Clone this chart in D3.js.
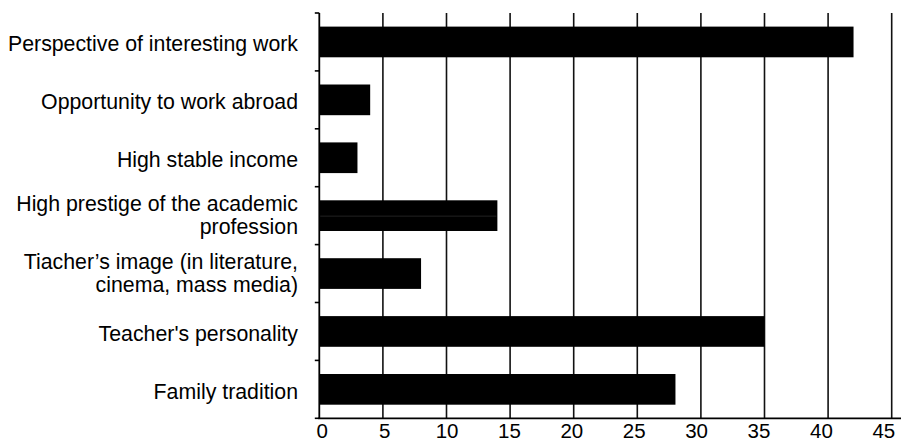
<!DOCTYPE html>
<html>
<head>
<meta charset="utf-8">
<script src="https://cdn.jsdelivr.net/npm/d3@7"></script>
<style>
  html, body { margin: 0; padding: 0; background: #fff; }
  svg { display: block; }
  text { font-family: "Liberation Sans", Arial, sans-serif; fill: #000; }
</style>
</head>
<body>
<svg id="chart" width="901" height="442"></svg>
<script>
// ---- data ----
const categories = [
  ["Perspective of interesting work"],
  ["Opportunity to work abroad"],
  ["High stable income"],
  ["High prestige of the academic", "profession"],
  ["Tiacher\u2019s image (in literature,", "cinema, mass media)"],
  ["Teacher's personality"],
  ["Family tradition"]
];
const values = [42, 4, 3, 14, 8, 35, 28];
const tickValues = [0, 5, 10, 15, 20, 25, 30, 35, 40, 45];

// ---- layout ----
const W = 901, H = 442;
const plotLeft = 319.3, plotTop = 13, plotBottom = 418.3;
const svg = d3.select("#chart");

const x = d3.scaleLinear().domain([0, 45.7]).range([plotLeft, 900.6]);
const xLabel = d3.scaleLinear().domain([0, 45]).range([322.3, 883.8]);
const y = d3.scaleBand()
  .domain(d3.range(categories.length))
  .range([plotTop, plotBottom])
  .paddingInner(0.47)
  .paddingOuter(0.235);
const step = y.step();

// vertical gridlines
svg.append("g").selectAll("line")
  .data(tickValues.slice(1))
  .join("line")
  .attr("x1", d => x(d)).attr("x2", d => x(d))
  .attr("y1", plotTop).attr("y2", plotBottom)
  .attr("stroke", "#111").attr("stroke-width", 1.6);

// bars
svg.append("g").selectAll("rect")
  .data(values)
  .join("rect")
  .attr("x", x(0))
  .attr("y", (d, i) => y(i))
  .attr("width", d => x(d) - x(0))
  .attr("height", y.bandwidth())
  .attr("fill", "#000");

// faint artifact line in the prestige bar
svg.append("line")
  .attr("x1", x(0)).attr("x2", x(values[3]) - 1)
  .attr("y1", y(3) + y.bandwidth() / 2 + 0.5)
  .attr("y2", y(3) + y.bandwidth() / 2 + 0.5)
  .attr("stroke", "#222").attr("stroke-width", 1);

// y axis line + ticks at band boundaries
svg.append("line")
  .attr("x1", plotLeft).attr("x2", plotLeft)
  .attr("y1", plotTop).attr("y2", plotBottom)
  .attr("stroke", "#000").attr("stroke-width", 1.8);
svg.append("g").selectAll("line")
  .data(d3.range(categories.length + 1))
  .join("line")
  .attr("x1", plotLeft - 4.5).attr("x2", plotLeft)
  .attr("y1", i => plotTop + i * step).attr("y2", i => plotTop + i * step)
  .attr("stroke", "#000").attr("stroke-width", 1.6);

// x axis line
svg.append("line")
  .attr("x1", plotLeft - 1).attr("x2", W)
  .attr("y1", plotBottom).attr("y2", plotBottom)
  .attr("stroke", "#000").attr("stroke-width", 1.8);

// x tick labels
svg.append("g").selectAll("text")
  .data(tickValues)
  .join("text")
  .attr("x", d => xLabel(d))
  .attr("y", 437.5)
  .attr("text-anchor", "middle")
  .attr("font-size", "20.5px")
  .text(d => d);

// category labels
const labelG = svg.append("g");
categories.forEach((lines, i) => {
  const c = y(i) + y.bandwidth() / 2;
  const n = lines.length;
  lines.forEach((t, j) => {
    labelG.append("text")
      .attr("x", 298)
      .attr("y", c + 9.5 + (j - (n - 1) / 2) * 23 - (n - 1) * 2.5)
      .attr("text-anchor", "end")
      .attr("font-size", "21.3px")
      .text(t);
  });
});
</script>
</body>
</html>
